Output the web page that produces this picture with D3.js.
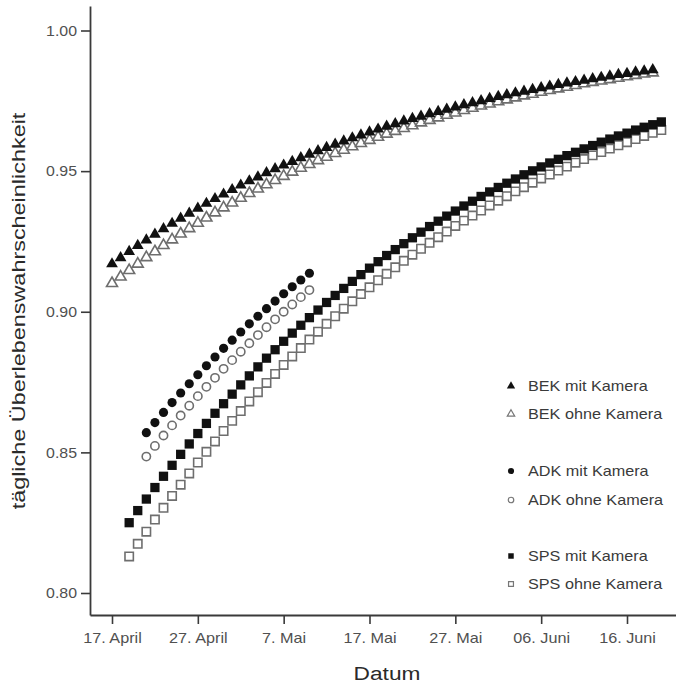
<!DOCTYPE html>
<html>
<head>
<meta charset="utf-8">
<script src="https://cdn.jsdelivr.net/npm/d3@7"></script>
<style>
  body { margin: 0; background: #fff; }
  svg { display: block; }
  text { font-family: "Liberation Sans", Arial, sans-serif; }
</style>
</head>
<body>
<div id="chart"></div>
<script>
// tick positions / labels
const tickDates = ["2009-04-17", "2009-04-27", "2009-05-07", "2009-05-17", "2009-05-27", "2009-06-06", "2009-06-16"];
const tickLabels = ["17. April", "27. April", "7. Mai", "17. Mai", "27. Mai", "06. Juni", "16. Juni"];
const yTicks = [0.80, 0.85, 0.90, 0.95, 1.00];

// daily survival, one value per day from the start date
const bekMitStart = "2009-04-17";
const bekMit = [0.9170,0.9192,0.9214,0.9235,0.9255,0.9275,0.9295,0.9314,0.9332,0.9350,
  0.9368,0.9385,0.9402,0.9418,0.9434,0.9450,0.9465,0.9479,0.9494,0.9508,
  0.9521,0.9534,0.9547,0.9560,0.9572,0.9584,0.9595,0.9607,0.9618,0.9628,
  0.9639,0.9649,0.9659,0.9668,0.9678,0.9687,0.9695,0.9704,0.9712,0.9720,
  0.9728,0.9736,0.9743,0.9750,0.9758,0.9765,0.9771,0.9778,0.9784,0.9790,
  0.9796,0.9802,0.9808,0.9813,0.9818,0.9823,0.9828,0.9833,0.9838,0.9843,
  0.9847,0.9852,0.9856,0.9860];

const bekOhneStart = "2009-04-17";
const bekOhne = [0.9101,0.9124,0.9147,0.9170,0.9193,0.9214,0.9236,0.9256,0.9277,0.9296,
  0.9315,0.9334,0.9352,0.9370,0.9387,0.9404,0.9421,0.9437,0.9452,0.9467,
  0.9482,0.9497,0.9511,0.9524,0.9538,0.9550,0.9563,0.9575,0.9587,0.9599,
  0.9610,0.9621,0.9632,0.9642,0.9652,0.9662,0.9672,0.9681,0.9690,0.9699,
  0.9707,0.9716,0.9724,0.9732,0.9739,0.9747,0.9754,0.9761,0.9768,0.9774,
  0.9781,0.9787,0.9793,0.9799,0.9805,0.9811,0.9816,0.9821,0.9826,0.9831,
  0.9836,0.9841,0.9846,0.9850];

const adkMitStart = "2009-04-21";
const adkMit = [0.8570,0.8606,0.8642,0.8677,0.8711,0.8744,0.8776,0.8808,0.8839,0.8870,
  0.8899,0.8928,0.8957,0.8984,0.9011,0.9038,0.9064,0.9089,0.9113,0.9137];

const adkOhneStart = "2009-04-21";
const adkOhne = [0.8485,0.8523,0.8560,0.8596,0.8631,0.8666,0.8700,0.8733,0.8765,0.8797,
  0.8828,0.8858,0.8888,0.8917,0.8945,0.8973,0.9000,0.9026,0.9052,0.9077];

const spsMitStart = "2009-04-19";
const spsMit = [0.8250,0.8293,0.8334,0.8375,0.8415,0.8454,0.8493,0.8530,0.8567,0.8603,
  0.8639,0.8673,0.8707,0.8740,0.8772,0.8804,0.8835,0.8865,0.8895,0.8924,
  0.8952,0.8979,0.9006,0.9033,0.9058,0.9083,0.9108,0.9132,0.9155,0.9178,
  0.9200,0.9221,0.9242,0.9263,0.9283,0.9303,0.9322,0.9340,0.9358,0.9376,
  0.9393,0.9410,0.9426,0.9442,0.9457,0.9472,0.9487,0.9501,0.9515,0.9529,
  0.9542,0.9555,0.9567,0.9579,0.9591,0.9603,0.9614,0.9625,0.9635,0.9646,
  0.9656,0.9665,0.9675];

const spsOhneStart = "2009-04-19";
const spsOhne = [0.8130,0.8175,0.8218,0.8261,0.8303,0.8345,0.8385,0.8425,0.8464,0.8502,
  0.8539,0.8576,0.8612,0.8647,0.8681,0.8714,0.8747,0.8779,0.8811,0.8841,
  0.8871,0.8901,0.8929,0.8957,0.8984,0.9011,0.9037,0.9063,0.9087,0.9112,
  0.9135,0.9158,0.9181,0.9203,0.9224,0.9245,0.9265,0.9285,0.9305,0.9324,
  0.9342,0.9360,0.9378,0.9395,0.9411,0.9428,0.9443,0.9459,0.9474,0.9488,
  0.9502,0.9516,0.9530,0.9543,0.9556,0.9568,0.9580,0.9592,0.9603,0.9614,
  0.9625,0.9636,0.9646];

const legendLabels = ["BEK mit Kamera", "BEK ohne Kamera", "ADK mit Kamera", "ADK ohne Kamera", "SPS mit Kamera", "SPS ohne Kamera"];

const W = 676, H = 683;
const parse = d3.timeParse("%Y-%m-%d");

const svg = d3.select("#chart").append("svg")
    .attr("width", W)
    .attr("height", H);

// scales, anchored on the tick positions, then extended to the axis ends
const x = d3.scaleTime()
    .domain([parse(tickDates[0]), parse(tickDates[6])])
    .range([112, 627]);
x.domain([x.invert(90), x.invert(676)]).range([90, 676]);

const y = d3.scaleLinear()
    .domain([0.80, 1.00])
    .range([593, 30.5]);
y.domain([y.invert(615), y.invert(6)]).range([615, 6]);

// helper to widen text a bit (the original font runs wide)
function widen(sel, k) {
    sel.each(function() {
        const len = this.getComputedTextLength();
        d3.select(this).attr("textLength", len * k).attr("lengthAdjust", "spacingAndGlyphs");
    });
}

// X axis
const xAxis = svg.append("g")
    .attr("transform", `translate(0,615)`)
    .call(d3.axisBottom(x)
        .tickValues(tickDates.map(parse))
        .tickFormat((d, i) => tickLabels[i])
        .tickSize(9)
        .tickSizeOuter(0)
        .tickPadding(8));

// Y axis
const yAxis = svg.append("g")
    .attr("transform", `translate(90,0)`)
    .call(d3.axisLeft(y)
        .tickValues(yTicks)
        .tickFormat(d3.format(".2f"))
        .tickSize(9)
        .tickSizeOuter(0)
        .tickPadding(4));

[xAxis, yAxis].forEach(g => {
    g.select(".domain").attr("stroke", "#3a3a3a").attr("stroke-width", 1.8);
    g.selectAll(".tick line").attr("stroke", "#3a3a3a").attr("stroke-width", 1.6);
    g.selectAll(".tick text")
        .attr("fill", "#505050")
        .style("font-size", "15px")
        .style("font-family", "'Liberation Sans', Arial, sans-serif");
});
widen(xAxis.selectAll(".tick text"), 1.08);
widen(yAxis.selectAll(".tick text"), 1.06);

// axis titles
svg.append("text")
    .attr("x", 387)
    .attr("y", 680)
    .attr("text-anchor", "middle")
    .attr("fill", "#2a2a2a")
    .style("font-size", "18px")
    .text("Datum")
    .call(widen, 1.26);

svg.append("text")
    .attr("transform", "translate(25,311) rotate(-90)")
    .attr("text-anchor", "middle")
    .attr("fill", "#2a2a2a")
    .style("font-size", "18px")
    .text("tägliche Überlebenswahrscheinlichkeit")
    .call(widen, 1.3);

// series (open markers drawn first, filled ones on top)
const series = [
    { values: bekOhne, start: bekOhneStart, type: d3.symbolTriangle, size: 52, filled: false },
    { values: bekMit,  start: bekMitStart,  type: d3.symbolTriangle, size: 60, filled: true },
    { values: adkOhne, start: adkOhneStart, type: d3.symbolCircle,   size: 54, filled: false },
    { values: adkMit,  start: adkMitStart,  type: d3.symbolCircle,   size: 66, filled: true },
    { values: spsOhne, start: spsOhneStart, type: d3.symbolSquare,   size: 70, filled: false },
    { values: spsMit,  start: spsMitStart,  type: d3.symbolSquare,   size: 86, filled: true }
];

series.forEach(s => {
    const t0 = parse(s.start);
    const sym = d3.symbol().type(s.type).size(s.size);
    svg.append("g")
        .selectAll("path")
        .data(s.values)
        .enter()
        .append("path")
        .attr("d", sym)
        .attr("transform", (d, i) => `translate(${x(d3.timeDay.offset(t0, i))},${y(d)})`)
        .attr("fill", s.filled ? "#111" : "#fff")
        .attr("stroke", s.filled ? "none" : "#6e6e6e")
        .attr("stroke-width", s.filled ? 0 : 1.6);
});

// legend
const legendY = [386, 414, 471, 500, 556, 584];
const legendSym = [
    { type: d3.symbolTriangle, filled: true },
    { type: d3.symbolTriangle, filled: false },
    { type: d3.symbolCircle, filled: true },
    { type: d3.symbolCircle, filled: false },
    { type: d3.symbolSquare, filled: true },
    { type: d3.symbolSquare, filled: false }
];

const legend = svg.append("g");
legendLabels.forEach((lab, i) => {
    const ls = legendSym[i];
    legend.append("path")
        .attr("d", d3.symbol().type(ls.type).size(ls.filled ? 30 : 24))
        .attr("transform", `translate(511,${legendY[i]})`)
        .attr("fill", ls.filled ? "#111" : "#fff")
        .attr("stroke", ls.filled ? "none" : "#777")
        .attr("stroke-width", 1.2);
    legend.append("text")
        .attr("x", 528)
        .attr("y", legendY[i])
        .attr("dy", "0.36em")
        .attr("fill", "#3a3a3a")
        .style("font-size", "15px")
        .text(lab)
        .call(widen, 1.08);
});
</script>
</body>
</html>
